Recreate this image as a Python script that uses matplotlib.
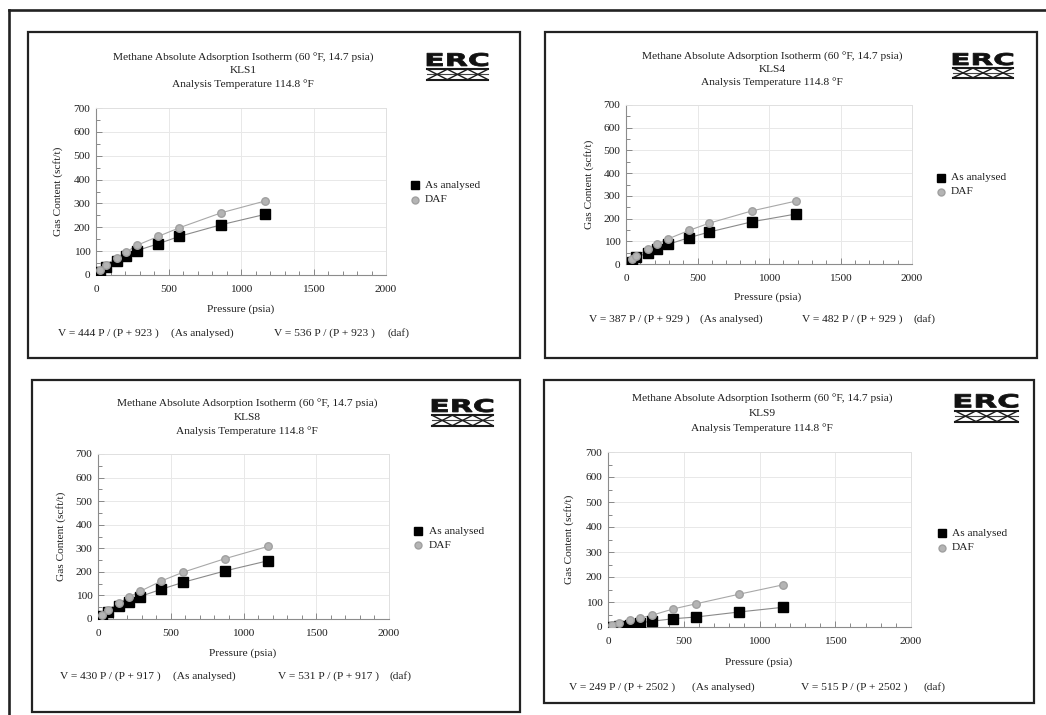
import numpy as np
import matplotlib.pyplot as plt
from matplotlib.lines import Line2D
from matplotlib.patches import Rectangle, PathPatch
from matplotlib.textpath import TextPath
from matplotlib.font_manager import FontProperties
from matplotlib.transforms import Affine2D

W, H = 1046, 715

# -------------------------------
# DATA
# -------------------------------
samples = ["KLS1", "KLS4", "KLS8", "KLS9"]

p_kls1 = [28, 69, 143, 207, 281, 430, 575, 865, 1165]
asr_kls1 = [13, 32, 60, 78, 102, 131, 162, 211, 254]
daf_kls1 = [22, 43, 71, 96, 124, 162, 198, 261, 310]

p_kls4 = [40, 72, 153, 219, 292, 441, 583, 882, 1188]
asr_kls4 = [9, 29, 50, 67, 86, 116, 141, 186, 220]
daf_kls4 = [20, 35, 64, 88, 110, 148, 180, 234, 277]

p_kls8 = [27, 66, 144, 210, 288, 434, 587, 873, 1168]
asr_kls8 = [11, 30, 54, 74, 95, 126, 156, 204, 247]
daf_kls8 = [18, 38, 68, 92, 117, 161, 199, 256, 308]

p_kls9 = [26, 75, 143, 211, 290, 429, 582, 864, 1158]
asr_kls9 = [0, 3, 9, 17, 23, 33, 40, 60, 79]
daf_kls9 = [8, 16, 28, 36, 47, 72, 93, 131, 169]

vl_asr = [444, 387, 430, 249]
vl_daf = [536, 482, 531, 515]
pl = [923, 929, 917, 2502]

pressures = [p_kls1, p_kls4, p_kls8, p_kls9]
as_analysed = [asr_kls1, asr_kls4, asr_kls8, asr_kls9]
daf = [daf_kls1, daf_kls4, daf_kls8, daf_kls9]

# -------------------------------
# LAYOUT (pixel positions on the page)
# -------------------------------
layout = [
    dict(box=(28, 32, 520, 358), ax=(96, 108, 386, 275), title=(243, 57.7, 13.2),
         logo=(427, 53, 488, 81), leg=(415, 425, 185, 200), ylab=58, xlab=(241, 309),
         eq=(333, 58, 171, 274, 387)),
    dict(box=(545, 32, 1037, 358), ax=(626, 105, 912, 264), title=(772, 56.7, 12.8),
         logo=(953, 53, 1013, 79), leg=(941, 951, 178, 192), ylab=589, xlab=(768, 297),
         eq=(319, 589, 700, 802, 913)),
    dict(box=(32, 380, 520, 712), ax=(98, 454, 389, 619), title=(247, 404, 13.5),
         logo=(432, 399, 493, 427), leg=(418, 429, 531, 545), ylab=61, xlab=(243, 653),
         eq=(676, 60, 173, 278, 390)),
    dict(box=(544, 380, 1034, 703), ax=(608, 452, 911, 627), title=(762, 399.3, 14.2),
         logo=(955, 394, 1018, 423), leg=(942, 952, 533, 548), ylab=569, xlab=(759, 662),
         eq=(687, 569, 692, 801, 924)),
]

plt.rcParams['font.family'] = ['Liberation Serif', 'DejaVu Serif']
FS = 8.2
TXT = '#1e1e1e'

fig = plt.figure(figsize=(W / 100, H / 100), dpi=100)


def fx(x):
    return x / W


def fy(y):
    return 1 - y / H


# page frame
fig.add_artist(Line2D([fx(9), fx(9)], [fy(10), fy(715)], color='#222222', lw=1.9))
fig.add_artist(Line2D([fx(9), fx(1046)], [fy(10), fy(10)], color='#222222', lw=1.9))

erc_path = TextPath((0, 0), "ERC", size=1, prop=FontProperties(family='DejaVu Sans', weight='bold'))
ext = erc_path.get_extents()


def draw_logo(x0, y0, x1, y1):
    # ERC letters stretched to fill the top part of the logo box
    h_txt = (y1 - y0) * 0.47
    sx = (x1 - x0) / ext.width
    sy = h_txt / ext.height
    tr = (Affine2D().translate(-ext.x0, -ext.y0).scale(sx / W, sy / H)
          .translate(fx(x0), fy(y0 + h_txt)) + fig.transFigure)
    fig.add_artist(PathPatch(erc_path, transform=tr, fc='#111111', ec='#111111', lw=0.6))
    # chain pattern
    ya = y0 + (y1 - y0) * 0.58
    yb = y0 + (y1 - y0) * 0.95
    for yy in (ya, yb):
        fig.add_artist(Line2D([fx(x0), fx(x1)], [fy(yy), fy(yy)], color='#1a1a1a', lw=1.5))
    ym = (ya + yb) / 2
    fig.add_artist(Line2D([fx(x0), fx(x1)], [fy(ym), fy(ym)], color='#444444', lw=0.8))
    n = 3
    seg = (x1 - x0) / n
    for i in range(n):
        a = x0 + i * seg
        b = a + seg
        fig.add_artist(Line2D([fx(a), fx(b)], [fy(ya), fy(yb)], color='#1a1a1a', lw=1.0))
        fig.add_artist(Line2D([fx(a), fx(b)], [fy(yb), fy(ya)], color='#1a1a1a', lw=1.0))


for i, name in enumerate(samples):
    L = layout[i]
    bx0, by0, bx1, by1 = L['box']
    fig.add_artist(Rectangle((fx(bx0), fy(by1)), fx(bx1 - bx0), (by1 - by0) / H,
                             fill=False, ec='#222222', lw=1.6, transform=fig.transFigure))

    ax0, ay0, ax1, ay1 = L['ax']
    ax = fig.add_axes([fx(ax0), fy(ay1), fx(ax1 - ax0), (ay1 - ay0) / H])
    p = np.array(pressures[i])
    a = np.array(as_analysed[i])
    d = np.array(daf[i])

    ax.plot(np.r_[0, p], np.r_[0, d], color='#a8a8a8', lw=0.8, zorder=2)
    ax.plot(np.r_[0, p], np.r_[0, a], color='#8a8a8a', lw=0.8, zorder=2)
    h_a, = ax.plot(p, a, 's', color='black', ms=6.8, zorder=3, label='As analysed')
    h_d, = ax.plot(p, d, 'o', color='#b4b4b4', mec='#a0a0a0', ms=5.4, zorder=4, label='DAF')

    ax.set_xlim(0, 2000)
    ax.set_ylim(0, 700)
    ax.set_xticks([0, 500, 1000, 1500, 2000])
    ax.set_yticks(range(0, 701, 100))
    ax.set_xticks(range(0, 2001, 100), minor=True)
    ax.set_yticks(range(0, 701, 50), minor=True)
    ax.grid(True, which='major', color='#e8e8e8', lw=0.7)
    ax.tick_params(which='both', direction='in', colors='#888888', labelcolor=TXT,
                   labelsize=FS, width=0.7)
    ax.tick_params(which='major', length=4, pad=7)
    ax.tick_params(which='minor', length=3)
    ax.tick_params(axis='y', pad=4)
    for s in ('left', 'bottom'):
        ax.spines[s].set_color('#8c8c8c')
        ax.spines[s].set_linewidth(0.8)
    for s in ('top', 'right'):
        ax.spines[s].set_color('#e0e0e0')
        ax.spines[s].set_linewidth(0.7)

    # titles
    tx, ty, dy = L['title']
    fig.text(fx(tx), fy(ty), "Methane Absolute Adsorption Isotherm (60 \u00b0F, 14.7 psia)",
             ha='center', va='center', fontsize=FS, color=TXT)
    fig.text(fx(tx), fy(ty + dy), name, ha='center', va='center', fontsize=FS, color=TXT)
    fig.text(fx(tx), fy(ty + 2 * dy), "Analysis Temperature 114.8 \u00b0F",
             ha='center', va='center', fontsize=FS, color=TXT)

    draw_logo(*L['logo'])

    # axis labels
    fig.text(fx(L['ylab']), fy((ay0 + ay1) / 2), "Gas Content (scft/t)", rotation=90,
             ha='center', va='center', fontsize=FS, color=TXT)
    fig.text(fx(L['xlab'][0]), fy(L['xlab'][1]), "Pressure (psia)",
             ha='center', va='center', fontsize=FS, color=TXT)

    # legend
    mx, lx, ly1, ly2 = L['leg']
    fig.add_artist(Line2D([fx(mx)], [fy(ly1)], marker='s', color='black', ms=5.8))
    fig.add_artist(Line2D([fx(mx)], [fy(ly2)], marker='o', color='#b4b4b4', mec='#a0a0a0', ms=5))
    fig.text(fx(lx), fy(ly1), h_a.get_label(), ha='left', va='center', fontsize=FS, color=TXT)
    fig.text(fx(lx), fy(ly2), h_d.get_label(), ha='left', va='center', fontsize=FS, color=TXT)

    # Langmuir equations
    ey, e1, e2, e3, e4 = L['eq']
    fig.text(fx(e1), fy(ey), f"V = {vl_asr[i]} P / (P + {pl[i]} )",
             ha='left', va='center', fontsize=FS, color=TXT)
    fig.text(fx(e2), fy(ey), "(As analysed)", ha='left', va='center', fontsize=FS, color=TXT)
    fig.text(fx(e3), fy(ey), f"V = {vl_daf[i]} P / (P + {pl[i]} )",
             ha='left', va='center', fontsize=FS, color=TXT)
    fig.text(fx(e4), fy(ey), "(daf)", ha='left', va='center', fontsize=FS, color=TXT)

fig.savefig("out.png", dpi=100)
